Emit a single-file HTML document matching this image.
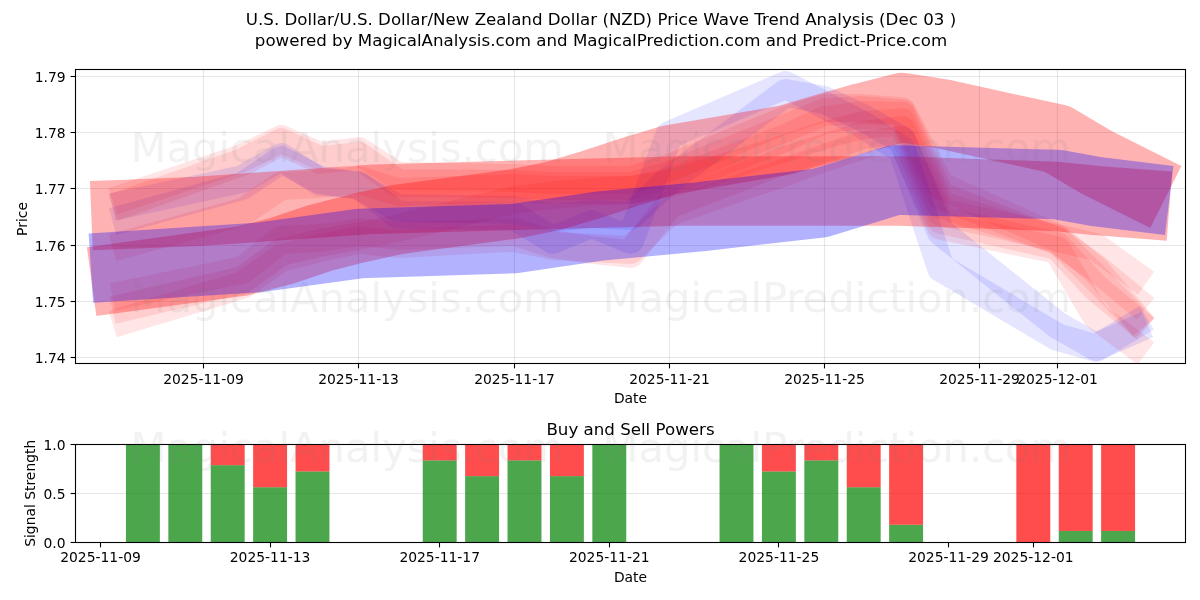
<!DOCTYPE html>
<html lang="en"><head><meta charset="utf-8"><title>Price Wave Trend Analysis</title>
<style>html,body{margin:0;padding:0;background:#fff;}body{width:1200px;height:600px;overflow:hidden;}svg{display:block;}text{font-family:"DejaVu Sans","Liberation Sans",sans-serif;fill:#000;}</style></head><body>
<svg width="1200" height="600" viewBox="0 0 1200 600">
<rect width="1200" height="600" fill="#fff"/>
<g font-size="16.67px" text-anchor="middle">
<text x="601" y="25.4">U.S. Dollar/U.S. Dollar/New Zealand Dollar (NZD) Price Wave Trend Analysis (Dec 03 )</text>
<text x="601" y="46.4">powered by MagicalAnalysis.com and MagicalPrediction.com and Predict-Price.com</text>
<text x="630.5" y="435">Buy and Sell Powers</text>
</g>
<g stroke="#b0b0b0" stroke-opacity="0.3" stroke-width="1.1" fill="none">
<line x1="203.5" y1="69.5" x2="203.5" y2="363.5"/>
<line x1="358.5" y1="69.5" x2="358.5" y2="363.5"/>
<line x1="514.5" y1="69.5" x2="514.5" y2="363.5"/>
<line x1="669.5" y1="69.5" x2="669.5" y2="363.5"/>
<line x1="824.5" y1="69.5" x2="824.5" y2="363.5"/>
<line x1="979.5" y1="69.5" x2="979.5" y2="363.5"/>
<line x1="1057.5" y1="69.5" x2="1057.5" y2="363.5"/>
<line x1="75.5" y1="357.5" x2="1185.5" y2="357.5"/>
<line x1="75.5" y1="301.5" x2="1185.5" y2="301.5"/>
<line x1="75.5" y1="245.5" x2="1185.5" y2="245.5"/>
<line x1="75.5" y1="188.5" x2="1185.5" y2="188.5"/>
<line x1="75.5" y1="132.5" x2="1185.5" y2="132.5"/>
<line x1="75.5" y1="76.5" x2="1185.5" y2="76.5"/>
<line x1="75.5" y1="493.5" x2="1185.5" y2="493.5"/>
</g>
<defs><clipPath id="c1"><rect x="75.5" y="69.5" width="1110.0" height="294.0"/></clipPath></defs>
<g clip-path="url(#c1)" fill="none" stroke-linecap="square" stroke-linejoin="round">
<polyline points="126.0,197.0 242.4,158.0 281.2,139.0 320.0,156.0 358.8,151.0 397.6,176.0 514.0,178.0 552.8,180.0 591.6,180.0 630.4,180.0 669.2,168.0 785.6,120.0 824.4,108.0 863.2,108.0 902.0,111.0 940.8,186.0 1057.2,238.0 1096.0,247.0 1134.8,275.0" stroke="#ff0000" stroke-width="27.8" stroke-opacity="0.1"/>
<polyline points="126.0,203.0 242.4,162.0 281.2,142.0 320.0,160.0 358.8,156.0 397.6,183.0 514.0,184.0 552.8,186.0 591.6,186.0 630.4,186.0 669.2,175.0 785.6,128.0 824.4,112.0 863.2,110.0 902.0,113.0 940.8,196.0 1057.2,241.0 1096.0,268.0 1134.8,300.0" stroke="#ff0000" stroke-width="27.8" stroke-opacity="0.1"/>
<polyline points="126.0,244.0 242.4,212.0 281.2,186.0 320.0,184.0 358.8,180.0 397.6,192.0 514.0,188.0 552.8,190.0 591.6,190.0 630.4,190.0 669.2,182.0 785.6,138.0 824.4,120.0 863.2,115.0 902.0,116.0 940.8,205.0 1057.2,240.0 1096.0,278.0 1134.8,318.0" stroke="#ff0000" stroke-width="27.8" stroke-opacity="0.1"/>
<polyline points="126.0,307.0 242.4,280.0 281.2,252.0 320.0,243.0 358.8,236.0 397.6,228.0 514.0,200.0 552.8,195.0 591.6,192.0 630.4,190.0 669.2,184.0 785.6,148.0 824.4,135.0 863.2,125.0 902.0,122.0 940.8,212.0 1057.2,238.0 1096.0,270.0 1134.8,316.0" stroke="#ff0000" stroke-width="27.8" stroke-opacity="0.1"/>
<polyline points="126.0,294.0 242.4,270.0 281.2,240.0 320.0,238.0 358.8,232.0 397.6,236.0 514.0,232.0 552.8,244.0 591.6,250.0 630.4,254.0 669.2,205.0 785.6,160.0 824.4,148.0 863.2,135.0 902.0,130.0 940.8,220.0 1057.2,246.0 1096.0,288.0 1134.8,320.0" stroke="#ff0000" stroke-width="27.8" stroke-opacity="0.1"/>
<polyline points="126.0,320.0 242.4,285.0 281.2,258.0 320.0,248.0 358.8,240.0 397.6,244.0 514.0,238.0 552.8,246.0 591.6,248.0 630.4,250.0 669.2,212.0 785.6,172.0 824.4,158.0 863.2,145.0 902.0,140.0 940.8,226.0 1057.2,250.0 1096.0,316.0 1134.8,345.0" stroke="#ff0000" stroke-width="27.8" stroke-opacity="0.1"/>
<polyline points="126.0,204.0 242.4,179.0 281.2,157.0 320.0,182.0 358.8,185.0 397.6,215.0 514.0,216.0 552.8,240.0 591.6,224.0 630.4,240.0 669.2,135.0 785.6,85.0 824.4,105.0 863.2,125.0 902.0,150.0 940.8,268.0 1057.2,337.0 1096.0,348.0 1134.8,325.0" stroke="#0000ff" stroke-width="27.8" stroke-opacity="0.1"/>
<polyline points="126.0,218.0 242.4,186.0 281.2,160.0 320.0,180.0 358.8,186.0 397.6,208.0 514.0,210.0 552.8,218.0 591.6,214.0 630.4,216.0 669.2,180.0 785.6,93.0 824.4,100.0 863.2,118.0 902.0,140.0 940.8,232.0 1057.2,325.0 1096.0,347.0 1134.8,330.0" stroke="#0000ff" stroke-width="27.8" stroke-opacity="0.1"/>
<polyline points="126.0,214.3 198.0,211.4 375.0,199.2 545.0,194.5 680.0,191.0 900.0,191.0 1057.2,196.5 1096.0,200.5 1134.8,203.5" stroke="#ff0000" stroke-width="69.4" stroke-opacity="0.3"/>
<polyline points="126.0,277.0 242.4,261.0 281.2,251.0 320.0,238.0 358.8,228.0 397.6,219.5 514.0,204.0 552.8,196.0 591.6,184.5 630.4,171.7 669.2,160.0 785.6,140.0 824.4,128.5 863.2,117.5 902.0,107.5 940.8,113.5 1057.2,139.0 1096.0,162.0 1134.8,181.5" stroke="#ff0000" stroke-width="69.4" stroke-opacity="0.3"/>
<polyline points="125.5,266.0 258.0,257.5 360.0,243.5 515.0,238.5 600.0,226.0 700.0,216.8 820.0,203.0 895.0,180.0 1000.0,183.0 1057.2,184.5 1096.0,191.5 1134.8,196.3" stroke="#0000ff" stroke-width="69.4" stroke-opacity="0.3"/>
</g>
<g fill-opacity="0.7">
<rect x="125.94" y="444.50" width="33.93" height="98.00" fill="#008000"/>
<rect x="168.34" y="444.50" width="33.93" height="98.00" fill="#008000"/>
<rect x="210.74" y="465.18" width="33.93" height="77.32" fill="#008000"/>
<rect x="210.74" y="444.50" width="33.93" height="20.68" fill="#ff0000"/>
<rect x="253.14" y="487.23" width="33.93" height="55.27" fill="#008000"/>
<rect x="253.14" y="444.50" width="33.93" height="42.73" fill="#ff0000"/>
<rect x="295.54" y="471.45" width="33.93" height="71.05" fill="#008000"/>
<rect x="295.54" y="444.50" width="33.93" height="26.95" fill="#ff0000"/>
<rect x="422.74" y="460.38" width="33.93" height="82.12" fill="#008000"/>
<rect x="422.74" y="444.50" width="33.93" height="15.88" fill="#ff0000"/>
<rect x="465.14" y="476.15" width="33.93" height="66.35" fill="#008000"/>
<rect x="465.14" y="444.50" width="33.93" height="31.65" fill="#ff0000"/>
<rect x="507.54" y="460.38" width="33.93" height="82.12" fill="#008000"/>
<rect x="507.54" y="444.50" width="33.93" height="15.88" fill="#ff0000"/>
<rect x="549.94" y="476.15" width="33.93" height="66.35" fill="#008000"/>
<rect x="549.94" y="444.50" width="33.93" height="31.65" fill="#ff0000"/>
<rect x="592.34" y="444.50" width="33.93" height="98.00" fill="#008000"/>
<rect x="719.54" y="444.50" width="33.93" height="98.00" fill="#008000"/>
<rect x="761.94" y="471.45" width="33.93" height="71.05" fill="#008000"/>
<rect x="761.94" y="444.50" width="33.93" height="26.95" fill="#ff0000"/>
<rect x="804.34" y="460.38" width="33.93" height="82.12" fill="#008000"/>
<rect x="804.34" y="444.50" width="33.93" height="15.88" fill="#ff0000"/>
<rect x="846.74" y="487.23" width="33.93" height="55.27" fill="#008000"/>
<rect x="846.74" y="444.50" width="33.93" height="42.73" fill="#ff0000"/>
<rect x="889.14" y="524.76" width="33.93" height="17.74" fill="#008000"/>
<rect x="889.14" y="444.50" width="33.93" height="80.26" fill="#ff0000"/>
<rect x="1016.34" y="444.50" width="33.93" height="98.00" fill="#ff0000"/>
<rect x="1058.74" y="530.94" width="33.93" height="11.56" fill="#008000"/>
<rect x="1058.74" y="444.50" width="33.93" height="86.44" fill="#ff0000"/>
<rect x="1101.14" y="530.94" width="33.93" height="11.56" fill="#008000"/>
<rect x="1101.14" y="444.50" width="33.93" height="86.44" fill="#ff0000"/>
</g>
<g stroke="#000" stroke-width="1.1" fill="none">
<rect x="75.5" y="69.5" width="1110.0" height="294.0"/>
<rect x="75.5" y="444.5" width="1110.0" height="98.0"/>
<line x1="203.5" y1="363.5" x2="203.5" y2="368.4"/>
<line x1="100.5" y1="542.5" x2="100.5" y2="547.4"/>
<line x1="358.5" y1="363.5" x2="358.5" y2="368.4"/>
<line x1="270.5" y1="542.5" x2="270.5" y2="547.4"/>
<line x1="514.5" y1="363.5" x2="514.5" y2="368.4"/>
<line x1="439.5" y1="542.5" x2="439.5" y2="547.4"/>
<line x1="669.5" y1="363.5" x2="669.5" y2="368.4"/>
<line x1="609.5" y1="542.5" x2="609.5" y2="547.4"/>
<line x1="824.5" y1="363.5" x2="824.5" y2="368.4"/>
<line x1="778.5" y1="542.5" x2="778.5" y2="547.4"/>
<line x1="979.5" y1="363.5" x2="979.5" y2="368.4"/>
<line x1="948.5" y1="542.5" x2="948.5" y2="547.4"/>
<line x1="1057.5" y1="363.5" x2="1057.5" y2="368.4"/>
<line x1="1033.5" y1="542.5" x2="1033.5" y2="547.4"/>
<line x1="70.6" y1="357.5" x2="75.5" y2="357.5"/>
<line x1="70.6" y1="301.5" x2="75.5" y2="301.5"/>
<line x1="70.6" y1="245.5" x2="75.5" y2="245.5"/>
<line x1="70.6" y1="188.5" x2="75.5" y2="188.5"/>
<line x1="70.6" y1="132.5" x2="75.5" y2="132.5"/>
<line x1="70.6" y1="76.5" x2="75.5" y2="76.5"/>
<line x1="70.6" y1="444.5" x2="75.5" y2="444.5"/>
<line x1="70.6" y1="493.5" x2="75.5" y2="493.5"/>
<line x1="70.6" y1="542.5" x2="75.5" y2="542.5"/>
</g>
<g font-size="13.89px">
<g text-anchor="middle">
<text x="203.5" y="383.6">2025-11-09</text>
<text x="100.5" y="561.6">2025-11-09</text>
<text x="358.5" y="383.6">2025-11-13</text>
<text x="270.1" y="561.6">2025-11-13</text>
<text x="514.5" y="383.6">2025-11-17</text>
<text x="439.7" y="561.6">2025-11-17</text>
<text x="669.5" y="383.6">2025-11-21</text>
<text x="609.3" y="561.6">2025-11-21</text>
<text x="824.5" y="383.6">2025-11-25</text>
<text x="778.9" y="561.6">2025-11-25</text>
<text x="979.5" y="383.6">2025-11-29</text>
<text x="948.5" y="561.6">2025-11-29</text>
<text x="1057.5" y="383.6">2025-12-01</text>
<text x="1033.3" y="561.6">2025-12-01</text>
<text x="630.5" y="402.6">Date</text>
<text x="630.5" y="581.6">Date</text>
<text transform="translate(26.5,219) rotate(-90)">Price</text>
<text transform="translate(34.5,493.3) rotate(-90)">Signal Strength</text>
</g><g text-anchor="end">
<text x="65.6" y="362.8">1.74</text>
<text x="65.6" y="306.8">1.75</text>
<text x="65.6" y="250.8">1.76</text>
<text x="65.6" y="193.8">1.77</text>
<text x="65.6" y="137.8">1.78</text>
<text x="65.6" y="81.8">1.79</text>
<text x="65.6" y="449.8">1.0</text>
<text x="65.6" y="498.8">0.5</text>
<text x="65.6" y="547.8">0.0</text>
</g></g>
<g font-size="41.67px" fill="#808080" fill-opacity="0.1" style="fill:#808080">
<text x="130.5" y="162" style="fill:#808080">MagicalAnalysis.com</text>
<text x="602.5" y="162" style="fill:#808080">MagicalPrediction.com</text>
<text x="130.5" y="312" style="fill:#808080">MagicalAnalysis.com</text>
<text x="602.5" y="312" style="fill:#808080">MagicalPrediction.com</text>
<text x="130.5" y="462" style="fill:#808080">MagicalAnalysis.com</text>
<text x="602.5" y="462" style="fill:#808080">MagicalPrediction.com</text>
</g>
</svg></body></html>
